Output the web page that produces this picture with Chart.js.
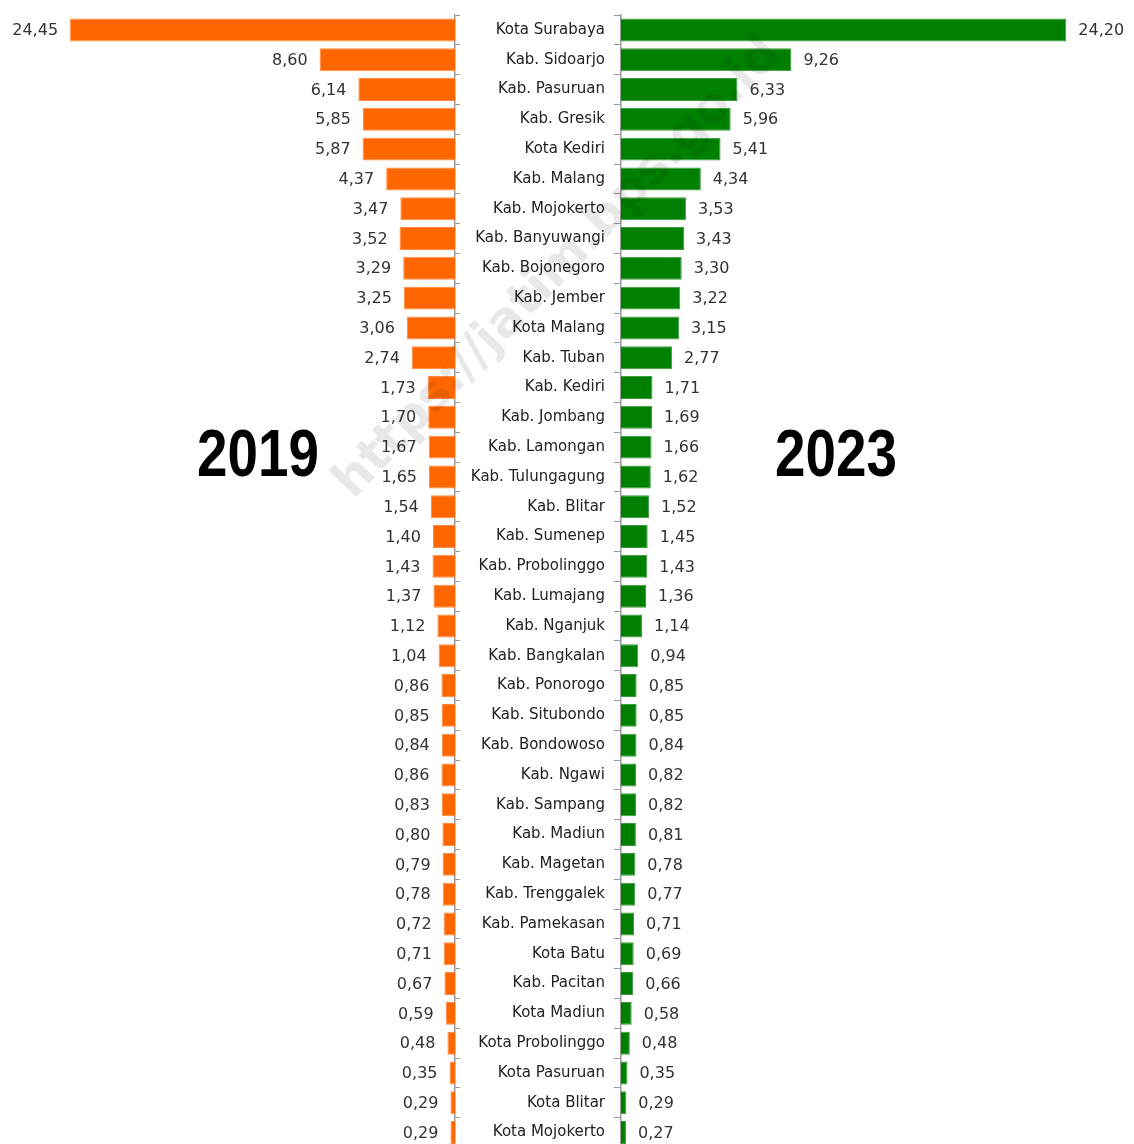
<!DOCTYPE html>
<html>
<head>
<meta charset="utf-8">
<script src="https://cdn.jsdelivr.net/npm/chart.js@4/dist/chart.umd.min.js"></script>
<style>
html,body{margin:0;padding:0;width:1134px;height:1144px;overflow:hidden;background:#fff;}
#wl{position:absolute;left:0;top:0;}
#wr{position:absolute;left:460px;top:0;}
.year{position:absolute;font-family:"Liberation Sans",sans-serif;font-weight:bold;font-size:66px;color:#000;line-height:1;transform:scaleX(0.83);transform-origin:0 0;}
#wm{position:absolute;left:556px;top:266px;font-family:"DejaVu Sans",sans-serif;font-weight:bold;font-size:49px;color:rgba(0,0,0,0.09);transform:translate(-50%,-50%) rotate(-46deg);white-space:nowrap;pointer-events:none;}
</style>
</head>
<body>
<div id="wl" style="width:460px;height:1150px;"><canvas id="cl"></canvas></div>
<div id="wr" style="width:674px;height:1150px;"><canvas id="cr"></canvas></div>
<div class="year" style="left:197px;top:420px;">2019</div>
<div class="year" style="left:775px;top:420px;">2023</div>
<div id="wm">https://jatim.bps.go.id</div>
<script>
const categories = ["Kota Surabaya","Kab. Sidoarjo","Kab. Pasuruan","Kab. Gresik","Kota Kediri","Kab. Malang","Kab. Mojokerto","Kab. Banyuwangi","Kab. Bojonegoro","Kab. Jember","Kota Malang","Kab. Tuban","Kab. Kediri","Kab. Jombang","Kab. Lamongan","Kab. Tulungagung","Kab. Blitar","Kab. Sumenep","Kab. Probolinggo","Kab. Lumajang","Kab. Nganjuk","Kab. Bangkalan","Kab. Ponorogo","Kab. Situbondo","Kab. Bondowoso","Kab. Ngawi","Kab. Sampang","Kab. Madiun","Kab. Magetan","Kab. Trenggalek","Kab. Pamekasan","Kota Batu","Kab. Pacitan","Kota Madiun","Kota Probolinggo","Kota Pasuruan","Kota Blitar","Kota Mojokerto"];
const values2019 = [24.45,8.60,6.14,5.85,5.87,4.37,3.47,3.52,3.29,3.25,3.06,2.74,1.73,1.70,1.67,1.65,1.54,1.40,1.43,1.37,1.12,1.04,0.86,0.85,0.84,0.86,0.83,0.80,0.79,0.78,0.72,0.71,0.67,0.59,0.48,0.35,0.29,0.29];
const values2023 = [24.20,9.26,6.33,5.96,5.41,4.34,3.53,3.43,3.30,3.22,3.15,2.77,1.71,1.69,1.66,1.62,1.52,1.45,1.43,1.36,1.14,0.94,0.85,0.85,0.84,0.82,0.82,0.81,0.78,0.77,0.71,0.69,0.66,0.58,0.48,0.35,0.29,0.27];

function valueLabels(side){
  return {
    id:'valueLabels'+side,
    afterDatasetsDraw(chart){
      const ctx = chart.ctx;
      const meta = chart.getDatasetMeta(0);
      const data = chart.data.datasets[0].data;
      ctx.save();
      ctx.font = '16px "DejaVu Sans", sans-serif';
      ctx.fillStyle = '#333';
      ctx.textBaseline = 'middle';
      ctx.textAlign = side === 'left' ? 'right' : 'left';
      meta.data.forEach((bar,i)=>{
        const txt = data[i].toFixed(2).replace('.',',');
        const x = side === 'left' ? bar.x - 12 : bar.x + 12;
        ctx.fillText(txt, x, bar.y + 1);
      });
      ctx.restore();
    }
  };
}

Chart.defaults.animation = false;

new Chart(document.getElementById('cl'), {
  type:'bar',
  data:{labels:categories, datasets:[{data:values2019, backgroundColor:'#FF6600', borderColor:'#FF8A3D', borderWidth:1, borderSkipped:'start', categoryPercentage:1, barPercentage:0.77}]},
  options:{
    indexAxis:'y', responsive:true, maintainAspectRatio:false,
    layout:{padding:{top:15,bottom:2.5,left:0,right:0}},
    plugins:{legend:{display:false}, tooltip:{enabled:false}},
    scales:{
      x:{display:false, reverse:true, min:0, max:28.9},
      y:{position:'right', offset:true,
         grid:{drawOnChartArea:false, offset:true, tickLength:5, color:'#999'},
         border:{color:'#999', width:1.5},
         ticks:{display:false},
         afterFit(s){ s.width = 5; s.paddingTop = 0; s.paddingBottom = 0; }
      }
    }
  },
  plugins:[valueLabels('left')]
});

new Chart(document.getElementById('cr'), {
  type:'bar',
  data:{labels:categories, datasets:[{data:values2023, backgroundColor:'#008000', borderColor:'#3A9A3A', borderWidth:1, borderSkipped:'start', categoryPercentage:1, barPercentage:0.77}]},
  options:{
    indexAxis:'y', responsive:true, maintainAspectRatio:false,
    layout:{padding:{top:15,bottom:2.5,left:0,right:0}},
    plugins:{legend:{display:false}, tooltip:{enabled:false}},
    scales:{
      x:{display:false, min:0, max:27.88},
      y:{position:'left', offset:true,
         grid:{drawOnChartArea:false, offset:true, tickLength:7, color:'#999'},
         border:{color:'#999', width:1.5},
         ticks:{padding:9, color:'#222', font:{family:'"DejaVu Sans", sans-serif', size:15}, autoSkip:false},
         afterFit(s){ s.width = 161; s.paddingTop = 0; s.paddingBottom = 0; }
      }
    }
  },
  plugins:[valueLabels('right')]
});
</script>
</body>
</html>
